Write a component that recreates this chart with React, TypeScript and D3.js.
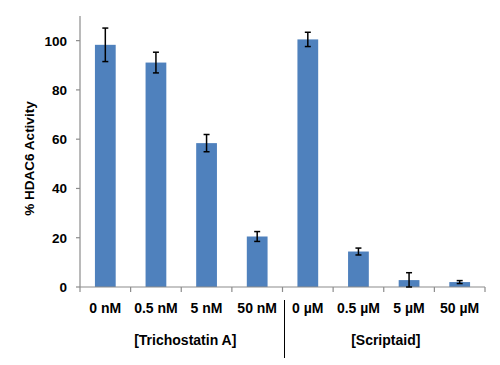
import React, { useRef, useEffect } from 'react';
import * as d3 from 'd3';

const categories = ['0 nM', '0.5 nM', '5 nM', '50 nM', '0 µM', '0.5 µM', '5 µM', '50 µM'];
const activity = [98.3, 91.1, 58.4, 20.5, 100.5, 14.4, 2.8, 2.0];
const errors = [6.8, 4.2, 3.5, 2.0, 2.9, 1.4, 3.0, 0.6];
const groups = ['[Trichostatin A]', '[Scriptaid]'];
const yTicks = [0, 20, 40, 60, 80, 100];

const App = () => {
  const svgRef = useRef(null);

  useEffect(() => {
    const svg = d3.select(svgRef.current);
    svg.selectAll('*').remove();

    const width = 500;
    const height = 365;
    const margin = { top: 16, right: 15, bottom: 78, left: 80 };
    const innerWidth = width - margin.left - margin.right;
    const innerHeight = height - margin.top - margin.bottom;
    const font = '"Liberation Sans", Arial, sans-serif';
    const axisColor = '#8c8c8c';

    const x = d3.scaleBand()
      .domain(categories)
      .range([0, innerWidth])
      .paddingInner(0.59)
      .paddingOuter(0.295);

    const y = d3.scaleLinear()
      .domain([0, 110])
      .range([innerHeight, 0]);

    const g = svg.append('g')
      .attr('transform', `translate(${margin.left},${margin.top})`);

    // bars
    g.selectAll('.bar')
      .data(categories)
      .enter()
      .append('rect')
      .attr('class', 'bar')
      .attr('x', d => x(d))
      .attr('y', (d, i) => y(activity[i]))
      .attr('width', x.bandwidth())
      .attr('height', (d, i) => innerHeight - y(activity[i]))
      .attr('fill', '#4f81bd');

    // y axis
    g.append('line')
      .attr('x1', 0).attr('x2', 0)
      .attr('y1', 0).attr('y2', innerHeight)
      .attr('stroke', axisColor).attr('stroke-width', 1.2);

    const yt = g.selectAll('.ytick')
      .data(yTicks)
      .enter()
      .append('g')
      .attr('transform', d => `translate(0,${y(d)})`);
    yt.append('line')
      .attr('x1', -4).attr('x2', 0)
      .attr('stroke', axisColor).attr('stroke-width', 1.2);
    yt.append('text')
      .attr('x', -13)
      .attr('dy', '0.36em')
      .attr('text-anchor', 'end')
      .style('font-family', font)
      .style('font-weight', 'bold')
      .style('font-size', '13.5px')
      .text(d => d);

    // x axis
    g.append('line')
      .attr('x1', 0).attr('x2', innerWidth)
      .attr('y1', innerHeight).attr('y2', innerHeight)
      .attr('stroke', axisColor).attr('stroke-width', 1.2);

    const step = x.step();
    const boundaries = d3.range(categories.length + 1).map(i => i * step);
    g.selectAll('.xtick')
      .data(boundaries)
      .enter()
      .append('line')
      .attr('x1', d => d).attr('x2', d => d)
      .attr('y1', innerHeight).attr('y2', innerHeight + 5)
      .attr('stroke', axisColor).attr('stroke-width', 1.2);

    g.selectAll('.xlabel')
      .data(categories)
      .enter()
      .append('text')
      .attr('x', d => x(d) + x.bandwidth() / 2)
      .attr('y', innerHeight + 26)
      .attr('text-anchor', 'middle')
      .style('font-family', font)
      .style('font-weight', 'bold')
      .style('font-size', '14px')
      .text(d => d);

    // group labels
    g.selectAll('.group')
      .data(groups)
      .enter()
      .append('text')
      .attr('x', (d, i) => step * (4 * i + 2) + (i === 0 ? 4 : 2))
      .attr('y', innerHeight + 58)
      .attr('text-anchor', 'middle')
      .style('font-family', font)
      .style('font-weight', 'bold')
      .style('font-size', '14px')
      .text(d => d);

    // group separator
    g.append('line')
      .attr('x1', step * 4 + 2).attr('x2', step * 4 + 2)
      .attr('y1', innerHeight + 13).attr('y2', innerHeight + 71)
      .attr('stroke', '#000').attr('stroke-width', 1);

    // error bars
    const eb = g.selectAll('.err')
      .data(categories)
      .enter()
      .append('g')
      .attr('transform', d => `translate(${x(d) + x.bandwidth() / 2},0)`);
    eb.append('line')
      .attr('y1', (d, i) => y(activity[i] + errors[i]))
      .attr('y2', (d, i) => y(Math.max(0, activity[i] - errors[i])))
      .attr('stroke', '#000').attr('stroke-width', 1.5);
    eb.append('line')
      .attr('x1', -3).attr('x2', 3)
      .attr('y1', (d, i) => y(activity[i] + errors[i]))
      .attr('y2', (d, i) => y(activity[i] + errors[i]))
      .attr('stroke', '#000').attr('stroke-width', 1.5);
    eb.append('line')
      .attr('x1', -3).attr('x2', 3)
      .attr('y1', (d, i) => y(Math.max(0, activity[i] - errors[i])))
      .attr('y2', (d, i) => y(Math.max(0, activity[i] - errors[i])))
      .attr('stroke', '#000').attr('stroke-width', 1.5);

    // y axis title
    svg.append('text')
      .attr('transform', `translate(34,${margin.top + innerHeight / 2 + 7}) rotate(-90)`)
      .attr('text-anchor', 'middle')
      .style('font-family', font)
      .style('font-weight', 'bold')
      .style('font-size', '13.5px')
      .text('% HDAC6 Activity');
  }, []);

  return (
    <svg
      ref={svgRef}
      width={500}
      height={365}
      style={{ position: 'absolute', left: 0, top: 0, background: '#fff' }}
    />
  );
};

export default App;
